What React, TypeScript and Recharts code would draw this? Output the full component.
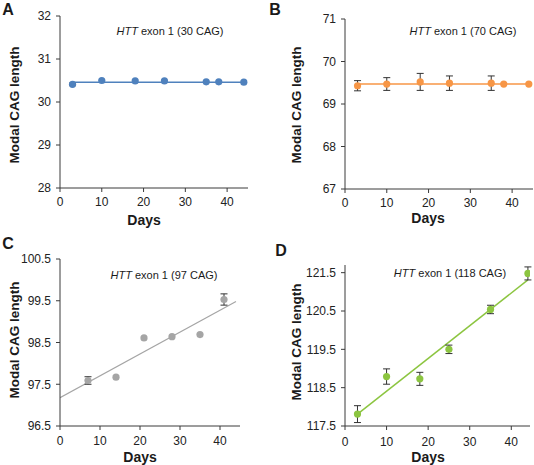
import React from "react";
import { ComposedChart, Line, XAxis, YAxis, ErrorBar } from "recharts";

// panel A – HTT exon 1 (30 CAG)
const daysA = [3, 10, 18, 25, 35, 38, 44];
const cagA = [30.41, 30.5, 30.49, 30.49, 30.47, 30.47, 30.46];
const errA = [0.03, 0, 0, 0, 0, 0, 0];
const trendDaysA = [3, 44];
const trendA = [30.46, 30.46];

// panel B – HTT exon 1 (70 CAG)
const daysB = [3, 10, 18, 25, 35, 38, 44];
const cagB = [69.43, 69.47, 69.52, 69.49, 69.49, 69.47, 69.47];
const errB = [0.12, 0.15, 0.2, 0.17, 0.17, 0, 0];
const trendDaysB = [3, 44];
const trendB = [69.47, 69.47];

// panel C – HTT exon 1 (97 CAG)
const daysC = [7, 14, 21, 28, 35, 41];
const cagC = [97.59, 97.67, 98.61, 98.64, 98.69, 99.53];
const errC = [0.09, 0, 0, 0, 0, 0.135];
const trendDaysC = [0, 44];
const trendC = [97.18, 99.48];

// panel D – HTT exon 1 (118 CAG)
const daysD = [3, 10, 18, 25, 35, 44];
const cagD = [117.81, 118.79, 118.73, 119.5, 120.54, 121.48];
const errD = [0.22, 0.2, 0.17, 0.11, 0.11, 0.17];
const trendDaysD = [3, 44];
const trendD = [117.81, 121.31];

const xTicks = [0, 10, 20, 30, 40];
const yTicksA = [28, 29, 30, 31, 32];
const yTicksB = [67, 68, 69, 70, 71];
const yTicksC = [96.5, 97.5, 98.5, 99.5, 100.5];
const yTicksD = [117.5, 118.5, 119.5, 120.5, 121.5];

const FONT = '"Liberation Sans", Arial, sans-serif';
const AXIS = "#3a3a3a";

type PanelProps = {
  left: number;
  top: number;
  width: number;
  height: number;
  marginTop: number;
  marginRight: number;
  yAxisWidth: number;
  xAxisHeight: number;
  xMax: number;
  yDomain: [number, number];
  yTicks: number[];
  xTickMargin: number;
  color: string;
  lineWidth: number;
  days: number[];
  values: number[];
  errors: number[];
  trendDays: number[];
  trendValues: number[];
};

function Panel(p: PanelProps) {
  const points = p.days.map((d, i) => ({ day: d, cag: p.values[i], err: p.errors[i] }));
  const withErr = points.filter((pt) => pt.err > 0);
  const trend = p.trendDays.map((d, i) => ({ day: d, fit: p.trendValues[i] }));
  const dot = { r: 3.6, fill: p.color, stroke: p.color, strokeWidth: 0 };

  return (
    <div style={{ position: "absolute", left: p.left, top: p.top }}>
      <ComposedChart
        width={p.width}
        height={p.height}
        margin={{ top: p.marginTop, right: p.marginRight, left: 0, bottom: 0 }}
      >
        <XAxis
          dataKey="day"
          type="number"
          domain={[0, p.xMax]}
          ticks={xTicks}
          height={p.xAxisHeight}
          allowDataOverflow
          tickSize={4}
          tickMargin={p.xTickMargin}
          stroke={AXIS}
          tick={{ fill: "#222", fontSize: 12, fontFamily: FONT }}
        />
        <YAxis
          type="number"
          domain={p.yDomain}
          ticks={p.yTicks}
          width={p.yAxisWidth}
          allowDataOverflow
          tickSize={4}
          tickMargin={5}
          stroke={AXIS}
          tick={{ fill: "#222", fontSize: 12, fontFamily: FONT }}
        />
        <Line
          data={trend}
          dataKey="fit"
          stroke={p.color}
          strokeWidth={p.lineWidth}
          dot={false}
          activeDot={false}
          isAnimationActive={false}
        />
        <Line
          data={withErr}
          dataKey="cag"
          stroke="none"
          dot={false}
          activeDot={false}
          isAnimationActive={false}
        >
          <ErrorBar dataKey="err" width={3.5} stroke="#333" strokeWidth={1} direction="y" />
        </Line>
        <Line
          data={points}
          dataKey="cag"
          stroke="none"
          dot={dot}
          activeDot={false}
          isAnimationActive={false}
        />
      </ComposedChart>
    </div>
  );
}

const textBase: React.CSSProperties = {
  position: "absolute",
  fontFamily: FONT,
  color: "#1a1a1a",
  whiteSpace: "nowrap",
  lineHeight: 1,
};

function Txt({ x, y, size, bold, rotate, children }: { x: number; y: number; size: number; bold?: boolean; rotate?: boolean; children: React.ReactNode }) {
  return (
    <div
      style={{
        ...textBase,
        left: x,
        top: y,
        fontSize: size,
        fontWeight: bold ? 700 : 400,
        transform: `translate(-50%, -50%)${rotate ? " rotate(-90deg)" : ""}`,
      }}
    >
      {children}
    </div>
  );
}

export default function App() {
  return (
    <div style={{ position: "absolute", left: 0, top: 0, width: 534, height: 465, background: "#fff", overflow: "hidden" }}>
      <Panel
        left={0} top={0} width={267} height={232}
        marginTop={16} marginRight={19} yAxisWidth={60} xAxisHeight={44}
        xMax={45} yDomain={[28, 32]} yTicks={yTicksA} xTickMargin={5.5}
        color="#4F81BD" lineWidth={1.5}
        days={daysA} values={cagA} errors={errA} trendDays={trendDaysA} trendValues={trendA}
      />
      <Panel
        left={267} top={0} width={267} height={232}
        marginTop={19} marginRight={1} yAxisWidth={78} xAxisHeight={43}
        xMax={45} yDomain={[67, 71]} yTicks={yTicksB} xTickMargin={5}
        color="#F79646" lineWidth={1.5}
        days={daysB} values={cagB} errors={errB} trendDays={trendDaysB} trendValues={trendB}
      />
      <Panel
        left={0} top={232} width={267} height={233}
        marginTop={27} marginRight={27} yAxisWidth={60} xAxisHeight={39}
        xMax={45} yDomain={[96.5, 100.5]} yTicks={yTicksC} xTickMargin={6.5}
        color="#A5A5A5" lineWidth={1.2}
        days={daysC} values={cagC} errors={errC} trendDays={trendDaysC} trendValues={trendC}
      />
      <Panel
        left={267} top={232} width={267} height={233}
        marginTop={33} marginRight={4} yAxisWidth={78} xAxisHeight={39}
        xMax={44.5} yDomain={[117.5, 121.7]} yTicks={yTicksD} xTickMargin={7.5}
        color="#8CC540" lineWidth={1.5}
        days={daysD} values={cagD} errors={errD} trendDays={trendDaysD} trendValues={trendD}
      />

      {/* panel letters */}
      <Txt x={8} y={10} size={16} bold>A</Txt>
      <Txt x={275} y={10} size={16} bold>B</Txt>
      <Txt x={8} y={244} size={16} bold>C</Txt>
      <Txt x={281} y={251} size={16} bold>D</Txt>

      {/* y axis titles */}
      <Txt x={15} y={105} size={13.5} bold rotate>Modal CAG length</Txt>
      <Txt x={297} y={105} size={13.5} bold rotate>Modal CAG length</Txt>
      <Txt x={15} y={340} size={13.5} bold rotate>Modal CAG length</Txt>
      <Txt x={297} y={342} size={13.5} bold rotate>Modal CAG length</Txt>

      {/* x axis titles */}
      <Txt x={144} y={220} size={14} bold>Days</Txt>
      <Txt x={428} y={218} size={14} bold>Days</Txt>
      <Txt x={140} y={457} size={14} bold>Days</Txt>
      <Txt x={428} y={457} size={14} bold>Days</Txt>

      {/* construct annotations */}
      <Txt x={170} y={31} size={11}><i>HTT</i> exon 1 (30 CAG)</Txt>
      <Txt x={463} y={31} size={11}><i>HTT</i> exon 1 (70 CAG)</Txt>
      <Txt x={164} y={275} size={11}><i>HTT</i> exon 1 (97 CAG)</Txt>
      <Txt x={450} y={273} size={11}><i>HTT</i> exon 1 (118 CAG)</Txt>
    </div>
  );
}
